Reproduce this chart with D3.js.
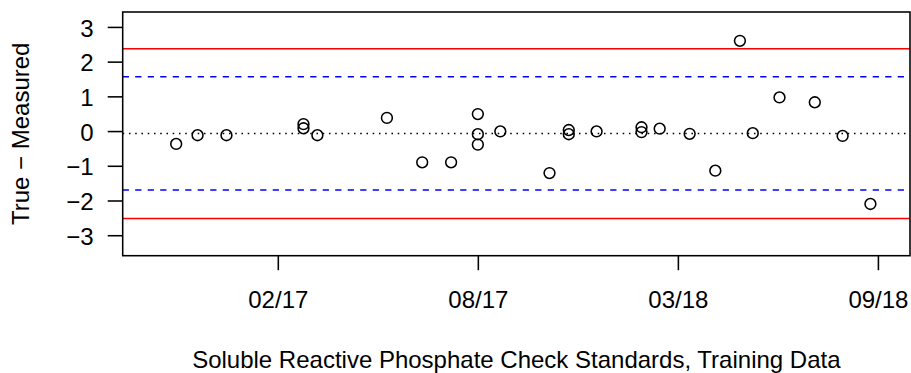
<!DOCTYPE html>
<html>
<head>
<meta charset="utf-8">
<script src="https://cdn.jsdelivr.net/npm/d3@7"></script>
<style>
  html, body { margin: 0; padding: 0; background: #fff; }
  svg { display: block; }
  text { font-family: "Liberation Sans", Arial, Helvetica, sans-serif; fill: #000; }
</style>
</head>
<body>
<svg id="chart" width="911" height="373"></svg>
<script>
// ---- data ----
const dates = ["2016-11-22","2016-12-12","2017-01-08","2017-03-21","2017-03-21","2017-04-03",
  "2017-06-07","2017-07-10","2017-08-06","2017-08-31","2017-08-31","2017-08-31","2017-09-21",
  "2017-11-06","2017-11-24","2017-11-24","2017-12-20","2018-01-31","2018-01-31","2018-02-17",
  "2018-03-17","2018-04-10","2018-05-03","2018-05-15","2018-06-09","2018-07-12","2018-08-07",
  "2018-09-02"];
const values = [-0.37,-0.12,-0.12,0.20,0.08,-0.12,
  0.38,-0.90,-0.90,0.49,-0.09,-0.39,-0.01,
  -1.21,0.03,-0.09,-0.01,0.11,-0.03,0.07,
  -0.08,-1.14,2.60,-0.06,0.97,0.83,-0.14,
  -2.10];
const xTickDates = ["2017-02-25","2017-08-31","2018-03-06","2018-09-09"];
const xDomain = ["2016-10-03","2018-10-09"];
const yTicks = [-3,-2,-1,0,1,2,3];
const yDomain = [-3.59, 3.43];
const centerLine = [-0.07];
const warningLimits = [-1.70, 1.565];
const controlLimits = [-2.52, 2.37];
const xTitle = "Soluble Reactive Phosphate Check Standards, Training Data";
const yTitle = "True \u2212 Measured";

// ---- layout ----
const W = 911, H = 373;
const plot = { left: 122.7, right: 910, top: 12, bottom: 255.7 };
const fontSize = 24;
const lw = 1.56;

const parse = d3.utcParse("%Y-%m-%d");
const svg = d3.select("#chart");

const x = d3.scaleUtc().domain(xDomain.map(parse)).range([plot.left, plot.right]);
const y = d3.scaleLinear().domain(yDomain).range([plot.bottom, plot.top]);

svg.append("defs").append("clipPath").attr("id", "clip")
  .append("rect").attr("x", plot.left).attr("y", plot.top)
  .attr("width", plot.right - plot.left).attr("height", plot.bottom - plot.top);

const g = svg.append("g").attr("clip-path", "url(#clip)");

function hline(v, color, dash) {
  g.append("line")
    .attr("x1", plot.left).attr("x2", plot.right)
    .attr("y1", y(v)).attr("y2", y(v))
    .attr("stroke", color).attr("stroke-width", lw)
    .attr("stroke-dasharray", dash || null);
}
controlLimits.forEach(v => hline(v, "#ff0000", null));
warningLimits.forEach(v => hline(v, "#0000ff", "6.25,6.25"));
centerLine.forEach(v => hline(v, "#000", "1.56,4.69"));

// points
g.selectAll("circle.pt").data(values).join("circle")
  .attr("class", "pt")
  .attr("cx", (d, i) => x(parse(dates[i])))
  .attr("cy", d => y(d))
  .attr("r", 5.4)
  .attr("fill", "none").attr("stroke", "#000").attr("stroke-width", lw);

// box
svg.append("rect")
  .attr("x", plot.left).attr("y", plot.top)
  .attr("width", plot.right - plot.left).attr("height", plot.bottom - plot.top)
  .attr("fill", "none").attr("stroke", "#000").attr("stroke-width", lw);

// x axis
const fmt = d3.utcFormat("%m/%y");
const xAxis = d3.axisBottom(x)
  .tickValues(xTickDates.map(parse))
  .tickFormat(fmt)
  .tickSize(14.5)
  .tickPadding(21);
const gx = svg.append("g").attr("transform", `translate(0,${plot.bottom})`).call(xAxis);
gx.select(".domain").remove();
gx.selectAll(".tick line").attr("stroke", "#000").attr("stroke-width", lw);
gx.selectAll(".tick text").attr("font-size", fontSize).attr("fill", "#000")
  .attr("font-family", "'Liberation Sans', Arial, sans-serif");

// y axis
const yAxis = d3.axisLeft(y)
  .tickValues(yTicks)
  .tickFormat(d => d < 0 ? "\u2212" + Math.abs(d) : String(d))
  .tickSize(15)
  .tickPadding(14);
const gy = svg.append("g").attr("transform", `translate(${plot.left},0)`).call(yAxis);
gy.select(".domain").remove();
gy.selectAll(".tick line").attr("stroke", "#000").attr("stroke-width", lw);
gy.selectAll(".tick text").attr("font-size", fontSize).attr("fill", "#000")
  .attr("dy", "0.38em")
  .attr("font-family", "'Liberation Sans', Arial, sans-serif");

// titles
svg.append("text")
  .attr("x", (plot.left + plot.right) / 2).attr("y", 367.5)
  .attr("text-anchor", "middle").attr("font-size", fontSize)
  .text(xTitle);
svg.append("text")
  .attr("transform", `translate(28.5,${(plot.top + plot.bottom) / 2}) rotate(-90)`)
  .attr("text-anchor", "middle").attr("font-size", fontSize)
  .text(yTitle);
</script>
</body>
</html>
